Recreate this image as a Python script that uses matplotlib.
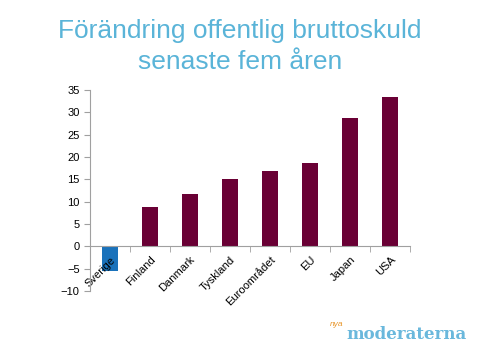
import matplotlib.pyplot as plt
import numpy as np

countries = ['Sverige', 'Finland', 'Danmark', 'Tyskland', 'Euroområdet', 'EU', 'Japan', 'USA']
values = [-5.5, 8.7, 11.6, 15.0, 16.8, 18.6, 28.7, 33.4]
colors = ['#1a72bb'] + ['#6a0035'] * 7

plt.rcParams['font.family'] = ['Liberation Sans', 'DejaVu Sans']

fig = plt.figure(figsize=(4.8, 3.6), dpi=100)
ax = fig.add_axes([0.1875, 0.192, 0.667, 0.558])

x = np.arange(len(countries))
ax.bar(x, values, width=0.4, color=colors)

ax.set_xlim(-0.5, len(countries) - 0.5)
ax.set_ylim(-10, 35)
ax.set_yticks(range(-10, 36, 5))

for s in ['top', 'right']:
    ax.spines[s].set_visible(False)
ax.spines['bottom'].set_position(('data', 0))
ax.spines['bottom'].set_color('#a0a0a0')
ax.spines['left'].set_color('#a0a0a0')

ax.set_xticks(x)
ax.set_xticklabels(countries, rotation=45, ha='right', rotation_mode='anchor', fontsize=8)
ax.set_xticks(np.arange(-0.5, len(countries), 1), minor=True)
ax.tick_params(axis='x', which='major', length=0, pad=6)
ax.tick_params(axis='x', which='minor', length=4, color='#a0a0a0', direction='out')
ax.tick_params(axis='y', length=4, color='#a0a0a0', labelsize=8)

fig.text(0.5, 0.915, 'Förändring offentlig bruttoskuld', ha='center', va='center',
         fontsize=19, color='#5ab4d8')
fig.text(0.5, 0.828, 'senaste fem åren', ha='center', va='center',
         fontsize=19, color='#5ab4d8')

fig.text(0.722, 0.072, 'moderaterna', ha='left', va='center', fontsize=12,
         family='DejaVu Serif', weight='bold', color='#6ab8dc')
fig.text(0.688, 0.098, 'nya', ha='left', va='center', fontsize=6, style='italic',
         color='#e8962a')

fig.savefig('out.png', dpi=100)
